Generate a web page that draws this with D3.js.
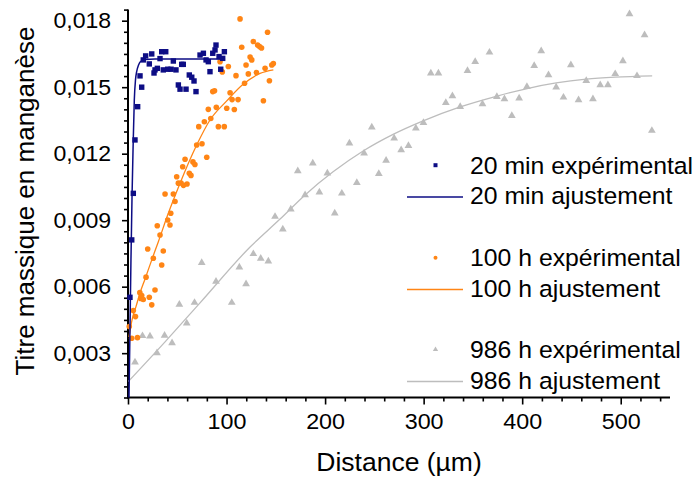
<!DOCTYPE html>
<html><head><meta charset="utf-8">
<script src="https://cdn.jsdelivr.net/npm/d3@7"></script>
<style>html,body{margin:0;padding:0;background:#fff;}svg{display:block;font-family:"Liberation Sans",Arial,sans-serif;}</style>
</head><body>
<script>
// ---- data ----
const xMajorTicks = [0, 100, 200, 300, 400, 500];
const yMajorTicks = [0.003, 0.006, 0.009, 0.012, 0.015, 0.018];
const yTickLabels = ["0,003", "0,006", "0,009", "0,012", "0,015", "0,018"];
const xTitle = "Distance (µm)";
const yTitle = "Titre massique en manganèse";
const legendLabels = ["20 min expérimental", "20 min ajustement", "100 h expérimental", "100 h ajustement", "986 h expérimental", "986 h ajustement"];

const exp20min = [[2.0,0.00552],[3.8,0.00811],[5.4,0.01021],[7.1,0.01262],[9.8,0.01412],[13.9,0.01500],[12.2,0.01551],[15.5,0.01623],[17.9,0.01641],[21.6,0.01605],[24.1,0.01650],[26.4,0.01564],[27.4,0.01578],[29.8,0.01585],[32.5,0.01629],[34.2,0.01660],[38.3,0.01660],[35.8,0.01578],[40.3,0.01581],[43.7,0.01581],[46.0,0.01618],[48.7,0.01578],[51.1,0.01510],[52.8,0.01491],[54.5,0.01603],[56.1,0.01603],[58.9,0.01491],[62.2,0.01555],[64.7,0.01545],[67.0,0.01528],[69.0,0.01480],[73.1,0.01645],[76.5,0.01653],[79.2,0.01623],[81.5,0.01615],[83.2,0.01570],[86.0,0.01653],[88.3,0.01668],[89.3,0.01690],[92.4,0.01638],[94.1,0.01581],[96.1,0.01630],[97.8,0.01660]];
const fit20min = [[1.0,0.00100],[2.0,0.00405],[3.0,0.00720],[4.1,0.01010],[5.1,0.01217],[6.4,0.01442],[7.6,0.01533],[8.8,0.01570],[10.7,0.01600],[12.7,0.01616],[17.3,0.01625],[27.4,0.01627],[98.5,0.01627]];

const exp100h = [[1.3,0.00420],[3.8,0.00367],[9.6,0.00370],[5.4,0.00492],[7.6,0.00465],[12.0,0.00573],[13.9,0.00560],[12.9,0.00547],[15.5,0.00542],[21.6,0.00552],[24.1,0.00518],[27.4,0.00585],[18.3,0.00643],[20.0,0.00770],[25.7,0.00728],[34.2,0.00698],[32.5,0.00833],[29.7,0.00875],[35.8,0.00761],[40.3,0.00901],[42.6,0.00878],[43.4,0.00931],[47.7,0.00984],[37.6,0.01018],[46.0,0.01018],[51.1,0.01067],[53.8,0.01068],[56.3,0.01057],[59.9,0.01063],[49.4,0.01096],[55.5,0.01141],[57.9,0.01175],[62.2,0.01112],[63.9,0.01102],[65.9,0.01163],[67.9,0.01151],[69.7,0.01239],[75.1,0.01245],[79.9,0.01184],[71.8,0.01322],[77.5,0.01344],[81.5,0.01400],[84.0,0.01359],[89.6,0.01409],[91.7,0.01322],[97.7,0.01322],[86.0,0.01480],[87.8,0.01484],[103.6,0.01475],[105.6,0.01444],[100.2,0.01405],[107.9,0.01399],[111.7,0.01444],[118.3,0.01518],[109.6,0.01552],[122.1,0.01560],[130.3,0.01566],[137.4,0.01439],[143.5,0.01529],[147.5,0.01607],[145.9,0.01600],[139.1,0.01585],[93.4,0.01615],[95.7,0.01569],[101.8,0.01593],[115.4,0.01680],[119.8,0.01600],[123.9,0.01636],[125.6,0.01623],[127.2,0.01706],[131.5,0.01690],[133.5,0.01683],[135.5,0.01677],[113.7,0.01808],[141.6,0.01748]];
const fit100h = [[1.0,0.00373],[4.1,0.00450],[8.1,0.00510],[12.2,0.00572],[17.3,0.00635],[23.4,0.00712],[30.8,0.00803],[40.9,0.00931],[52.1,0.01059],[69.7,0.01239],[83.2,0.01352],[100.2,0.01438],[117.1,0.01514],[134.0,0.01562],[147.5,0.01578]];

const exp986h = [[7.1,0.00259],[14.7,0.00378],[22.3,0.00376],[29.4,0.00301],[37.1,0.00380],[44.7,0.00346],[52.1,0.00520],[59.6,0.00435],[67.5,0.00528],[74.8,0.00708],[89.3,0.00623],[105.3,0.00528],[113.0,0.00688],[119.8,0.00612],[127.2,0.00748],[134.7,0.00727],[142.4,0.00715],[149.2,0.00916],[157.1,0.00859],[165.2,0.00949],[172.3,0.01122],[179.7,0.01014],[187.5,0.01157],[194.2,0.01026],[202.3,0.01112],[209.8,0.00931],[217.0,0.01021],[224.7,0.01247],[232.2,0.01069],[239.6,0.01202],[247.4,0.01319],[254.5,0.01109],[261.9,0.01169],[270.1,0.01270],[277.2,0.01217],[284.6,0.01236],[292.1,0.01315],[299.8,0.01340],[307.3,0.01563],[315.0,0.01563],[322.5,0.01430],[329.2,0.01460],[337.1,0.01412],[344.5,0.01574],[352.3,0.01615],[359.7,0.01424],[366.8,0.01657],[374.3,0.01457],[382.0,0.01447],[389.5,0.01371],[396.9,0.01450],[404.8,0.01502],[412.2,0.01597],[419.3,0.01663],[426.7,0.01555],[434.5,0.01500],[441.9,0.01454],[449.4,0.01600],[457.2,0.01442],[465.0,0.01529],[471.8,0.01447],[479.2,0.01510],[487.0,0.01510],[494.4,0.01560],[502.2,0.01618],[508.9,0.01830],[516.5,0.01551],[524.2,0.01735],[531.6,0.01304]];
const fit986h = [[0.3,0.00172],[37.6,0.00351],[73.1,0.00527],[123.9,0.00779],[154.3,0.00905],[179.7,0.01014],[208.1,0.01118],[238.6,0.01212],[269.0,0.01287],[299.5,0.01348],[337.1,0.01411],[374.6,0.01460],[405.1,0.01494],[434.5,0.01519],[465.0,0.01536],[494.4,0.01545],[531.9,0.01551]];

// ---- styles ----
const cBlue = "#0d0d85", cOrange = "#ff8515", cGray = "#bdbdbd";

const W = 694, H = 480;
const svg = d3.select("body").append("svg").attr("width", W).attr("height", H);

const x = d3.scaleLinear().domain([0, 550]).range([128, 670]);
const y = d3.scaleLinear().domain([0.001, 0.0185]).range([397.5, 9.6]);

// axes
const xMinor = d3.range(0, 551, 20).filter(v => v % 100 !== 0);
const yMinor = d3.range(2, 38).map(i => i * 0.0005).filter(v => !yMajorTicks.some(t => Math.abs(t - v) < 1e-9));

const gx = svg.append("g").attr("transform", `translate(0,${y.range()[0]})`);
gx.call(d3.axisBottom(x).tickValues(xMajorTicks).tickSize(7).tickPadding(9).tickFormat(d3.format("d")));
gx.append("g").call(d3.axisBottom(x).tickValues(xMinor).tickSize(4).tickFormat(""));
gx.selectAll(".domain").attr("stroke-width", 0);
gx.append("line").attr("x1", x.range()[0] - 1).attr("x2", x.range()[1]).attr("stroke", "#000").attr("stroke-width", 2);
gx.selectAll(".tick line").attr("stroke", "#000").attr("stroke-width", 1.6);
gx.selectAll(".tick text").attr("font-size", 22).attr("fill", "#000").attr("font-family", "Liberation Sans, Arial, sans-serif")
  .attr("transform", "scale(1.06,1)");

const gy = svg.append("g").attr("transform", `translate(${x.range()[0]},0)`);
gy.call(d3.axisLeft(y).tickValues(yMajorTicks).tickSize(6).tickPadding(10).tickFormat((d, i) => yTickLabels[i]));
gy.append("g").call(d3.axisLeft(y).tickValues(yMinor).tickSize(4).tickFormat(""));
gy.selectAll(".domain").attr("stroke-width", 0);
gy.append("line").attr("y1", y.range()[0] + 1).attr("y2", y.range()[1]).attr("stroke", "#000").attr("stroke-width", 2);
gy.selectAll(".tick line").attr("stroke", "#000").attr("stroke-width", 1.6);
gy.selectAll(".tick text").attr("font-size", 22).attr("fill", "#000").attr("font-family", "Liberation Sans, Arial, sans-serif")
  .attr("transform", "scale(1.05,1)");

// titles
svg.append("text").attr("transform", "translate(399,471) scale(1.02,1)").attr("text-anchor", "middle")
  .attr("font-size", 26).attr("fill", "#000").text(xTitle);
svg.append("text").attr("transform", "translate(34,201) rotate(-90)").attr("text-anchor", "middle")
  .attr("font-size", 26).attr("fill", "#000").text(yTitle);

// data
const line = d3.line().x(d => x(d[0])).y(d => y(d[1])).curve(d3.curveMonotoneX);
const tri = d3.symbol().type(d3.symbolTriangle).size(26);

svg.append("path").datum(fit986h).attr("d", line).attr("fill", "none").attr("stroke", cGray).attr("stroke-width", 1.3);
svg.append("g").selectAll("path").data(exp986h).join("path")
  .attr("d", tri).attr("transform", d => `translate(${x(d[0])},${y(d[1])})`).attr("fill", cGray);

svg.append("path").datum(fit100h).attr("d", line).attr("fill", "none").attr("stroke", cOrange).attr("stroke-width", 1.3);
svg.append("g").selectAll("circle").data(exp100h).join("circle")
  .attr("cx", d => x(d[0])).attr("cy", d => y(d[1])).attr("r", 2.8).attr("fill", cOrange);

svg.append("path").datum(fit20min).attr("d", line).attr("fill", "none").attr("stroke", cBlue).attr("stroke-width", 1.5);
svg.append("g").selectAll("rect").data(exp20min).join("rect")
  .attr("x", d => x(d[0]) - 2.7).attr("y", d => y(d[1]) - 2.7).attr("width", 5.4).attr("height", 5.4).attr("fill", cBlue);

// legend
const legY = [165, 195.5, 257.5, 288, 349.5, 380];
const leg = svg.append("g");
legendLabels.forEach((lab, i) => {
  const yy = legY[i];
  const col = [cBlue, cOrange, cGray][Math.floor(i / 2)];
  if (i % 2 === 0) {
    if (i === 0) leg.append("rect").attr("x", 433.5).attr("y", yy - 1.8).attr("width", 4).attr("height", 4).attr("fill", col);
    if (i === 2) leg.append("circle").attr("cx", 435.5).attr("cy", yy + 0.3).attr("r", 2).attr("fill", col);
    if (i === 4) leg.append("path").attr("d", d3.symbol().type(d3.symbolTriangle).size(12)).attr("transform", `translate(435.5,${yy})`).attr("fill", col);
  } else {
    leg.append("line").attr("x1", 407).attr("x2", 463).attr("y1", yy + 1.5).attr("y2", yy + 1.5).attr("stroke", col).attr("stroke-width", i === 1 ? 1.5 : 1.3);
  }
  leg.append("text").attr("transform", `translate(470,${yy + 8.5}) scale(1.055,1)`).attr("font-size", 23.5).attr("fill", "#000").text(lab);
});
</script>
</body></html>
